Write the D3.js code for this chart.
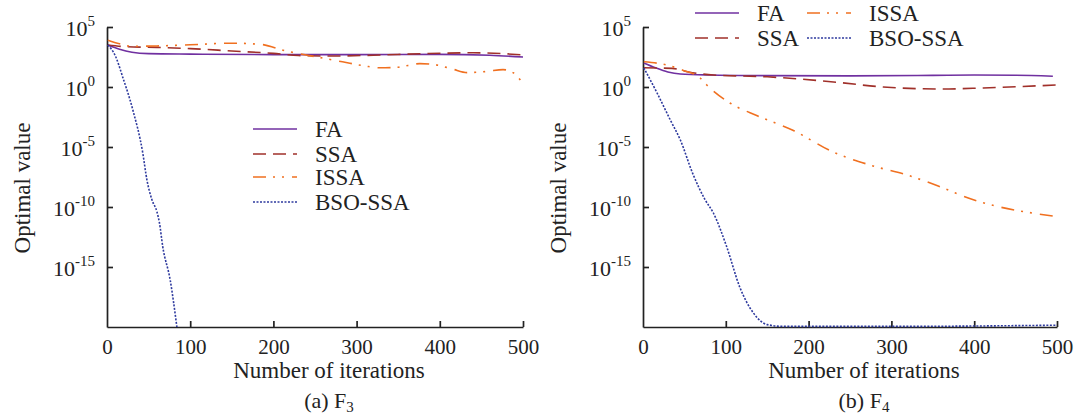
<!DOCTYPE html>
<html>
<head>
<meta charset="utf-8">
<script src="https://cdn.jsdelivr.net/npm/d3@7"></script>
<style>
    body { margin: 0; background: #fff; }
    svg { display: block; font-family: "Liberation Serif", "Times New Roman", serif; }
</style>
</head>
<body>
<svg id="chart"></svg>
<script>
// iteration / log10(optimal value) pairs
const seriesNames = ["FA", "SSA", "ISSA", "BSO-SSA"]

const f3_FA = [[1, 3.5], [15, 3.15], [30, 2.9], [50, 2.78], [100, 2.74], [200, 2.7], [300, 2.7], [400, 2.72], [460, 2.65], [500, 2.5]]
const f3_SSA = [[1, 3.5], [25, 3.35], [60, 3.3], [100, 3.2], [150, 3.0], [200, 2.8], [230, 2.62], [270, 2.58], [320, 2.65], [380, 2.78], [440, 2.85], [500, 2.68]]
const f3_ISSA = [[1, 3.9], [15, 3.6], [30, 3.4], [60, 3.42], [100, 3.52], [150, 3.65], [185, 3.55], [215, 3.0], [226, 2.85], [260, 2.4], [283, 2.1], [310, 1.75], [328, 1.6], [350, 1.65], [376, 1.95], [395, 1.85], [415, 1.5], [433, 1.2], [457, 1.3], [476, 1.45], [488, 1.2], [500, 0.3]]
const f3_BSO = [[1, 3.5], [10, 2.6], [19, 0.8], [31, -1.9], [43, -5.5], [48, -7.75], [54, -9.4], [60, -10.4], [63, -11.3], [67, -13.3], [76, -16.1], [84, -20]]

const f4_FA = [[1, 2.0], [15, 1.6], [30, 1.25], [45, 1.08], [80, 1.0], [150, 0.95], [250, 0.93], [350, 0.97], [400, 1.0], [450, 0.98], [495, 0.9]]
const f4_SSA = [[1, 1.6], [35, 1.55], [55, 1.25], [85, 1.0], [150, 0.85], [188, 0.67], [240, 0.35], [290, 0.0], [362, -0.17], [411, -0.08], [500, 0.17]]
const f4_ISSA = [[1, 2.1], [29, 1.83], [48, 1.4], [69, 0.75], [77, 0.17], [105, -1.33], [138, -2.4], [181, -3.6], [229, -5.4], [274, -6.5], [322, -7.4], [362, -8.4], [399, -9.4], [431, -10.0], [470, -10.5], [500, -10.8]]
const f4_BSO = [[1, 1.6], [17, -0.5], [33, -2.75], [45, -4.4], [60, -7.2], [75, -9.4], [85, -10.5], [101, -13.3], [117, -16.7], [133, -18.8], [150, -19.8], [170, -19.95], [300, -19.95], [500, -19.85]]

const xTicks = [0, 100, 200, 300, 400, 500]
const yTickExps = [5, 0, -5, -10, -15]

const colors = ["#7030a0", "#a0302a", "#f07020", "#2e3a9e"]
const dashes = [null, "13,7", "13,7,2,7,2,8", "2,1.5"]

const width = 1078, height = 420

const svg = d3.select("#chart")
    .attr("width", width)
    .attr("height", height)

function drawPanel(opts) {
    const x = d3.scaleLinear().domain([0, 500]).range([opts.x0, opts.x1])
    const y = d3.scaleLog().domain([1e-20, 1e5]).range([327, 27])

    const g = svg.append("g")

    // axes
    const xAxis = g.append("g")
        .attr("transform", "translate(0,327)")
        .call(d3.axisBottom(x).tickValues(xTicks).tickSizeInner(-6).tickSizeOuter(0))
    xAxis.selectAll("text")
        .attr("y", 27).attr("dy", null)
        .attr("font-size", 21).attr("fill", "#222")
        .attr("font-family", "Liberation Serif")
    xAxis.selectAll(".tick").filter(d => d === 0).select("line").remove()

    const yAxis = g.append("g")
        .attr("transform", `translate(${opts.x0},0)`)
        .call(d3.axisLeft(y).tickValues(yTickExps.map(e => Math.pow(10, e)))
            .tickSizeInner(-6).tickSizeOuter(0).tickFormat(() => ""))
    yAxis.selectAll(".tick text").remove()
    yAxis.selectAll(".tick").append("text")
        .attr("x", -12).attr("y", 8)
        .attr("text-anchor", "end")
        .attr("fill", "#222")
        .attr("font-family", "Liberation Serif")
        .each(function (d) {
            const t = d3.select(this)
            t.append("tspan").attr("font-size", 22).text("10")
            t.append("tspan").attr("font-size", 15).attr("dy", -10)
                .text(Math.round(Math.log10(d)))
        })

    g.selectAll(".domain, .tick line").attr("stroke", "#222").attr("stroke-width", 1.7)

    // titles
    g.append("text")
        .attr("transform", `translate(${opts.x0 - 77},188)rotate(-90)`)
        .attr("text-anchor", "middle")
        .attr("font-size", 23).attr("fill", "#222")
        .text("Optimal value")

    const mid = (opts.x0 + opts.x1) / 2 + 14
    g.append("text")
        .attr("x", mid).attr("y", 378)
        .attr("text-anchor", "middle")
        .attr("font-size", 23).attr("fill", "#222")
        .text("Number of iterations")

    const cap = g.append("text")
        .attr("x", mid).attr("y", 408)
        .attr("text-anchor", "middle")
        .attr("font-size", 22).attr("fill", "#222")
    cap.append("tspan").text(opts.caption)
    cap.append("tspan").attr("font-size", 15).attr("dy", 4).text(opts.sub)

    // curves
    const line = d3.line()
        .x(d => x(d[0]))
        .y(d => y(Math.pow(10, d[1])))
        .curve(d3.curveMonotoneX)

    opts.series.forEach((s, i) => {
        g.append("path")
            .datum(s)
            .attr("d", line)
            .attr("fill", "none")
            .attr("stroke", colors[i])
            .attr("stroke-width", 1.6)
            .attr("stroke-dasharray", dashes[i])
    })

    // legend
    const leg = g.append("g")
    opts.legendPos.forEach((p, i) => {
        leg.append("line")
            .attr("x1", p[0]).attr("x2", p[0] + 44)
            .attr("y1", p[1]).attr("y2", p[1])
            .attr("stroke", colors[i])
            .attr("stroke-width", 1.6)
            .attr("stroke-dasharray", dashes[i])
        leg.append("text")
            .attr("x", p[0] + 62).attr("y", p[1] + 7.5)
            .attr("font-size", 23).attr("fill", "#222")
            .text(seriesNames[i])
    })
}

drawPanel({
    x0: 107, x1: 523,
    series: [f3_FA, f3_SSA, f3_ISSA, f3_BSO],
    caption: "(a) F", sub: "3",
    legendPos: [[253, 129], [253, 154], [253, 177], [253, 202]]
})

drawPanel({
    x0: 643, x1: 1057,
    series: [f4_FA, f4_SSA, f4_ISSA, f4_BSO],
    caption: "(b) F", sub: "4",
    legendPos: [[695, 13], [695, 38], [807, 13], [807, 38]]
})
</script>
</body>
</html>
